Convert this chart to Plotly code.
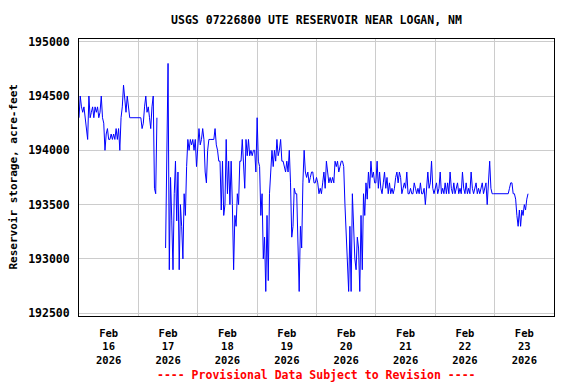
import pandas as pd
import plotly.graph_objects as go

# Reservoir storage (acre-feet), 30-minute readings, one list per day
d16 = [194300, 194500, 194400, 194350, 194400, 194300, 194200, 194100, 194500, 194300,
       194350, 194400, 194300, 194400, 194350, 194400, 194300, 194350, 194500, 194300,
       194250, 194000, 194150, 194200, 194100, 194100, 194150, 194100, 194150, 194100,
       194200, 194100, 194200, 194000, 194300, 194400, 194600, 194450, 194350, 194500,
       194400, 194300, 194300, 194300, 194300, 194300, 194300, 194300]
d17 = [194300, 194300, 194300, 194200, 194250, 194400, 194500, 194350, 194400, 194300,
       194200, 194400, 194500, 193650, 193600, 194300, None, None, None, None,
       None, None, 193100, 194100, 194800, 192900, 193750, 193350, 192900, 193600,
       193900, 193350, 193800, 192900, 193500, 193300, 193000, 193600, 193400, 193850,
       194100, 194000, 194100, 194050, 194100, 194000, 194100, 193850]
d18 = [194000, 194200, 194050, 194100, 194200, 194100, 193800, 193700, 194000, 194100,
       194100, 194100, 194100, 194100, 194200, 194050, 194000, 193900, 193900, 193450,
       193900, 193400, 193500, 194100, 193600, 193900, 193500, 193900, 193500, 192900,
       193400, 193300, 193600, 193500, 193900, 193900, 194100, 193900, 193650, 194100,
       193950, 194100, 193950, 194000, 193950, 194000, 194000, 193800]
d19 = [194300, 193900, 193850, 193400, 193600, 193000, 193200, 192700, 193400, 192800,
       193600, 193800, 194000, 193850, 194000, 193900, 194100, 193950, 194000, 194100,
       193900, 193900, 193850, 193800, 193900, 193800, 194000, 193700, 193200, 193300,
       193650, 193600, 193600, 193200, 192700, 193300, 193100, 193700, 194000, 193800,
       193750, 193800, 193700, 193750, 193800, 193800, 193700, 193700]
d20 = [193750, 193700, 193600, 193650, 193600, 193700, 193800, 193650, 193900, 193800,
       193700, 193750, 193700, 193750, 193700, 193900, 193850, 193900, 193800, 193850,
       193900, 193900, 193850, 193500, 193200, 193000, 192700, 193300, 192700, 193600,
       193200, 193000, 192900, 193200, 193100, 192700, 193400, 192900, 193600, 193400,
       193700, 193550, 193800, 193650, 193900, 193750, 193800, 193700]
d21 = [193700, 193900, 193650, 193800, 193650, 193600, 193700, 193800, 193650, 193750,
       193600, 193700, 193600, 193650, 193600, 193650, 193750, 193800, 193700, 193800,
       193750, 193600, 193650, 193700, 193650, 193800, 193600, 193600, 193650, 193600,
       193600, 193700, 193650, 193600, 193650, 193600, 193700, 193600, 193600, 193650,
       193500, 193700, 193800, 193650, 193700, 193900, 193650, 193600]
d22 = [193650, 193700, 193600, 193650, 193800, 193600, 193650, 193600, 193700, 193600,
       193700, 193600, 193800, 193650, 193600, 193700, 193600, 193650, 193700, 193600,
       193650, 193600, 193800, 193650, 193600, 193700, 193600, 193650, 193600, 193800,
       193650, 193600, 193650, 193700, 193600, 193650, 193600, 193650, 193700, 193600,
       193650, 193700, 193500, 193750, 193900, 193650, 193600, 193600]
d23 = [193600, 193600, 193600, 193600, 193600, 193600, 193600, 193600, 193600, 193600,
       193600, 193600, 193650, 193700, 193700, 193600, 193600, 193550, 193400, 193300,
       193450, 193300, 193450, 193400, 193500, 193450, 193550, 193600]

storage = d16 + d17 + d18 + d19 + d20 + d21 + d22 + d23
start_time = "2026-02-16 00:00"

# Axis labels / ticks
day_labels = ["Feb<br>16<br>2026", "Feb<br>17<br>2026", "Feb<br>18<br>2026", "Feb<br>19<br>2026",
              "Feb<br>20<br>2026", "Feb<br>21<br>2026", "Feb<br>22<br>2026", "Feb<br>23<br>2026"]
day_noons = ["2026-02-16 12:00", "2026-02-17 12:00", "2026-02-18 12:00", "2026-02-19 12:00",
             "2026-02-20 12:00", "2026-02-21 12:00", "2026-02-22 12:00", "2026-02-23 12:00"]
day_bounds = ["2026-02-17", "2026-02-18", "2026-02-19", "2026-02-20",
              "2026-02-21", "2026-02-22", "2026-02-23"]
y_ticks = [192500, 193000, 193500, 194000, 194500, 195000]

title_text = "USGS 07226800 UTE RESERVOIR NEAR LOGAN, NM"
y_title = "Reservoir storage, acre-feet"
footer = "---- Provisional Data Subject to Revision ----"

times = pd.date_range(start_time, periods=len(storage), freq="30min")

FONT = "DejaVu Sans Mono"

fig = go.Figure(go.Scatter(
    x=times, y=storage, mode="lines", connectgaps=False,
    line=dict(color="#0000ff", width=1), showlegend=False,
))

fig.update_layout(
    width=576, height=384,
    margin=dict(l=79, r=22, t=39, b=68, autoexpand=False),
    paper_bgcolor="white", plot_bgcolor="white",
    font=dict(family=FONT, size=11.5, color="black", weight="bold"),
    title=dict(text=title_text, x=0.5, xref="paper", xanchor="center",
               y=1 - 20 / 384, yref="container", yanchor="middle",
               font=dict(family=FONT, size=11.5, color="black", weight="bold")),
    xaxis=dict(
        type="date", automargin=False,
        range=["2026-02-16 00:00", "2026-02-24 00:00"],
        tickmode="array", tickvals=day_noons, ticktext=day_labels,
        showgrid=False, ticks="", zeroline=False, ticklabelstandoff=7,
        minor=dict(tickmode="array", tickvals=day_bounds, showgrid=True,
                   gridcolor="#cccccc", gridwidth=1, ticks=""),
        showline=True, mirror=True, linecolor="black", linewidth=1,
        tickfont=dict(family=FONT, size=10.5, color="black", weight="bold"),
    ),
    yaxis=dict(
        range=[192474, 195025], automargin=False,
        tickmode="array", tickvals=y_ticks, tickformat="d",
        showgrid=True, gridcolor="#cccccc", gridwidth=1,
        ticks="", zeroline=False, ticklabelstandoff=6,
        showline=True, mirror=True, linecolor="black", linewidth=1,
        tickfont=dict(family=FONT, size=11.5, color="black", weight="bold"),
    ),
    annotations=[
        dict(text=y_title, textangle=-90, xref="paper", yref="paper",
             x=(13 - 79) / 475, y=0.5, xanchor="center", yanchor="middle",
             showarrow=False,
             font=dict(family=FONT, size=11, color="black", weight="bold")),
        dict(text=footer, xref="paper", yref="paper",
             x=0.5, y=(316 - 375) / 277, xanchor="center", yanchor="middle",
             showarrow=False,
             font=dict(family=FONT, size=11.5, color="#ff0000", weight="bold")),
    ],
)

fig.write_html("out.html", config={"displayModeBar": False},
               post_script="document.body.style.margin='0px';document.body.style.padding='0px';")
